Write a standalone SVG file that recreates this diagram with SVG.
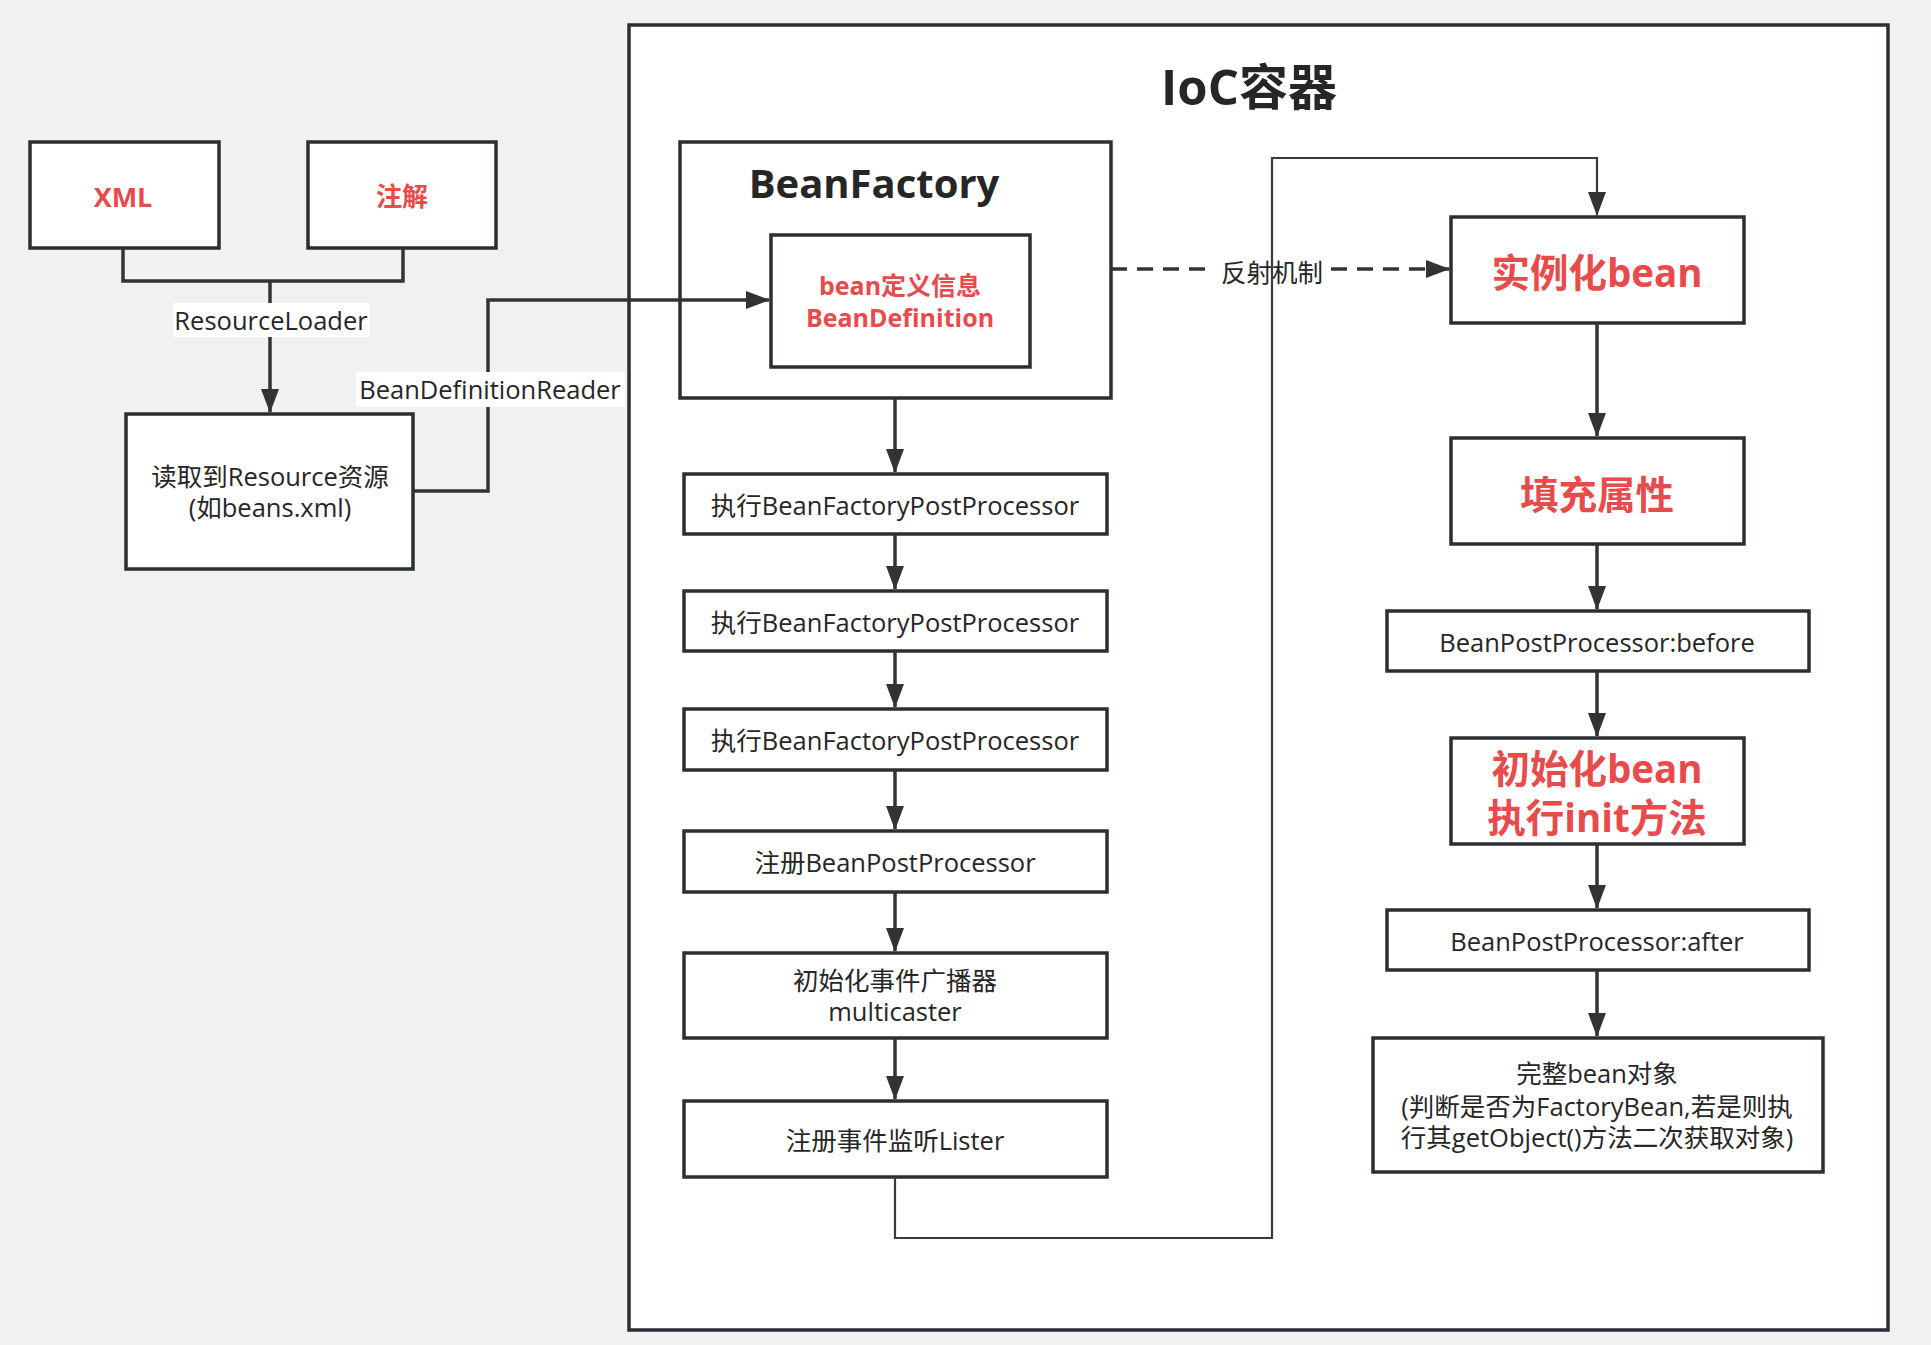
<svg xmlns="http://www.w3.org/2000/svg" width="1931" height="1345" viewBox="0 0 1931 1345">
<style>
.bg{fill:#f1f1f1}
.box{fill:#ffffff;stroke:#2a2f34;stroke-width:3.5}
.t{font-family:'Open Sans','Noto Sans CJK SC',sans-serif;font-size:25.5px;fill:#262626;text-anchor:middle;dominant-baseline:central}
.r{fill:#e84b4b;font-weight:700}
.b{font-weight:700}
.c{fill:none;stroke:#333333;stroke-width:3.5}
.thin{fill:none;stroke:#3a3a3a;stroke-width:2.2}
.dash{stroke-dasharray:16 10}
.lbl{fill:#ffffff}
</style>
<defs>
<marker id="ah" markerUnits="userSpaceOnUse" markerWidth="24" markerHeight="18" refX="23" refY="9" orient="auto">
<path d="M0,0 L24,9 L0,18 z" fill="#333333"/>
</marker>
</defs>
<rect class="bg" x="0" y="0" width="1931" height="1345"/>

<g id="ioc-container">
<rect class="box" x="629" y="25" width="1259" height="1305"/>
<text class="t b" x="1249" y="86" style="font-size:49px">IoC容器</text>
</g>

<g id="xml">
<rect class="box" x="30" y="142" width="189" height="106"/>
<text class="t r" x="123" y="196" style="font-size:27px">XML</text>
</g>
<g id="annotation">
<rect class="box" x="308" y="142" width="188" height="106"/>
<text class="t r" x="402" y="196" style="font-size:26px">注解</text>
</g>
<g id="resource">
<rect class="box" x="126" y="414" width="287" height="155"/>
<text class="t" x="270" y="476">读取到Resource资源</text>
<text class="t" x="270" y="507">(如beans.xml)</text>
</g>

<g id="bean-factory">
<rect class="box" x="680" y="142" width="431" height="256"/>
<text class="t b" x="874" y="182" style="font-size:40px">BeanFactory</text>
</g>
<g id="bean-definition">
<rect class="box" x="771" y="235" width="259" height="132"/>
<text class="t r" x="900" y="285" style="font-size:25px">bean定义信息</text>
<text class="t r" x="900" y="317" style="font-size:25px">BeanDefinition</text>
</g>

<g id="bfpp-1">
<rect class="box" x="684" y="474" width="423" height="60"/>
<text class="t" x="895" y="505">执行BeanFactoryPostProcessor</text>
</g>
<g id="bfpp-2">
<rect class="box" x="684" y="591" width="423" height="60"/>
<text class="t" x="895" y="622">执行BeanFactoryPostProcessor</text>
</g>
<g id="bfpp-3">
<rect class="box" x="684" y="709" width="423" height="61"/>
<text class="t" x="895" y="740">执行BeanFactoryPostProcessor</text>
</g>
<g id="register-bpp">
<rect class="box" x="684" y="831" width="423" height="61"/>
<text class="t" x="895" y="862">注册BeanPostProcessor</text>
</g>
<g id="multicaster">
<rect class="box" x="684" y="953" width="423" height="85"/>
<text class="t" x="895" y="980">初始化事件广播器</text>
<text class="t" x="895" y="1011">multicaster</text>
</g>
<g id="listener">
<rect class="box" x="684" y="1101" width="423" height="76"/>
<text class="t" x="895" y="1140">注册事件监听Lister</text>
</g>

<g id="instantiate">
<rect class="box" x="1451" y="217" width="293" height="106"/>
<text class="t r" x="1597" y="272" style="font-size:38.5px">实例化bean</text>
</g>
<g id="populate">
<rect class="box" x="1451" y="438" width="293" height="106"/>
<text class="t r" x="1597" y="494" style="font-size:38.5px">填充属性</text>
</g>
<g id="bpp-before">
<rect class="box" x="1387" y="611" width="422" height="60"/>
<text class="t" x="1597" y="642">BeanPostProcessor:before</text>
</g>
<g id="init">
<rect class="box" x="1451" y="738" width="293" height="106"/>
<text class="t r" x="1597" y="768" style="font-size:38.5px">初始化bean</text>
<text class="t r" x="1597" y="817" style="font-size:38.5px">执行init方法</text>
</g>
<g id="bpp-after">
<rect class="box" x="1387" y="910" width="422" height="60"/>
<text class="t" x="1597" y="941">BeanPostProcessor:after</text>
</g>
<g id="complete-bean">
<rect class="box" x="1373" y="1038" width="450" height="134"/>
<text class="t" x="1597" y="1073">完整bean对象</text>
<text class="t" x="1597" y="1106">(判断是否为FactoryBean,若是则执</text>
<text class="t" x="1597" y="1137">行其getObject()方法二次获取对象)</text>
</g>

<g id="connectors">
<path class="c" d="M123,248 V281 H403 V248"/>
<path class="c" d="M270,281 V412" marker-end="url(#ah)"/>
<rect class="lbl" x="173" y="303" width="197" height="34"/>
<text class="t" x="271" y="320">ResourceLoader</text>
<path class="c" d="M413,491 H488 V300 H769" marker-end="url(#ah)"/>
<rect class="lbl" x="356" y="372" width="269" height="35"/>
<text class="t" x="490" y="389">BeanDefinitionReader</text>
<path class="c dash" d="M1111,269 H1214"/>
<path class="c dash" d="M1331,269 H1449" marker-end="url(#ah)"/>
<path class="c" d="M895,398 V472" marker-end="url(#ah)"/>
<path class="c" d="M895,534 V589" marker-end="url(#ah)"/>
<path class="c" d="M895,651 V707" marker-end="url(#ah)"/>
<path class="c" d="M895,770 V829" marker-end="url(#ah)"/>
<path class="c" d="M895,892 V951" marker-end="url(#ah)"/>
<path class="c" d="M895,1038 V1099" marker-end="url(#ah)"/>
<path class="thin" d="M895,1177 V1238 H1272 V158 H1597 V215" marker-end="url(#ah)"/>
<text class="t" x="1272" y="272">反射机制</text>
<path class="c" d="M1597,323 V436" marker-end="url(#ah)"/>
<path class="c" d="M1597,544 V609" marker-end="url(#ah)"/>
<path class="c" d="M1597,671 V736" marker-end="url(#ah)"/>
<path class="c" d="M1597,844 V908" marker-end="url(#ah)"/>
<path class="c" d="M1597,970 V1036" marker-end="url(#ah)"/>
</g>
</svg>
